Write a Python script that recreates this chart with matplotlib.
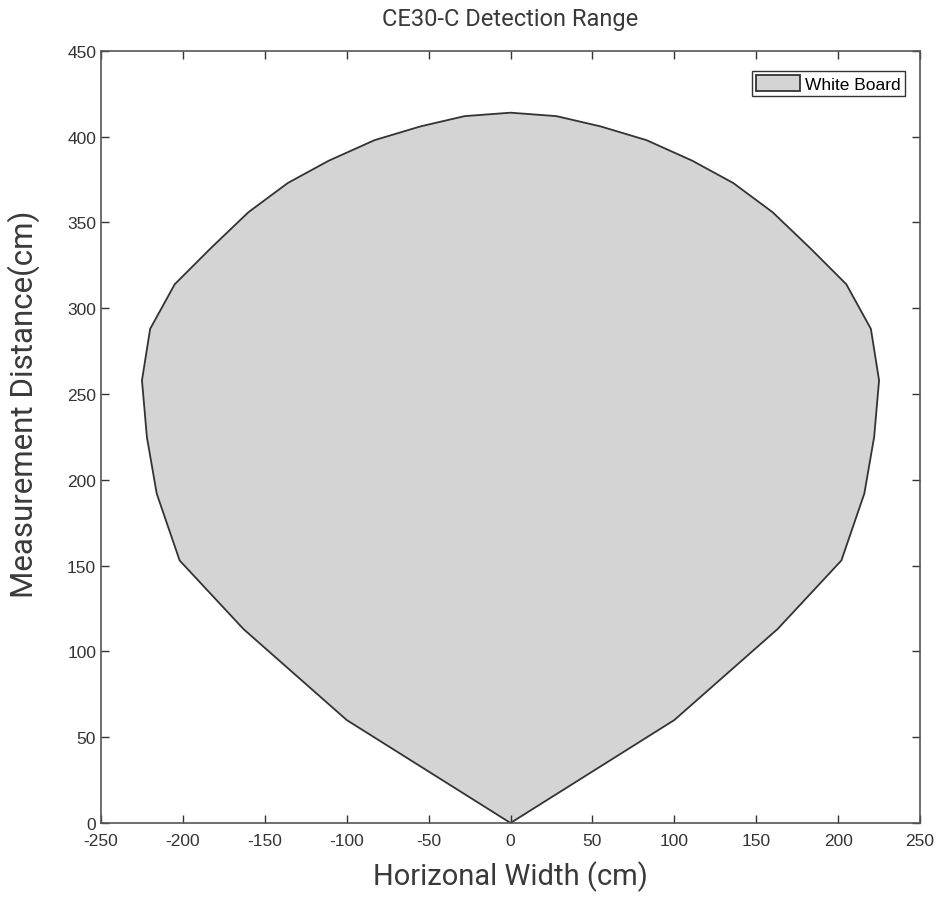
import numpy as np
import matplotlib.pyplot as plt

plt.rcParams['axes.unicode_minus'] = False

# outline of the detection area (cm), traced counter-clockwise from the origin
width = [0, 100, 163, 202, 216, 222, 225, 220, 205, 183, 160, 136, 111, 83, 55, 28,
         0, -28, -55, -83, -111, -136, -160, -183, -205, -220, -225, -222, -216, -202, -163, -100, 0]
distance = [0, 60, 113, 153, 192, 225, 258, 288, 314, 335, 356, 373, 386, 398, 406, 412,
            414, 412, 406, 398, 386, 373, 356, 335, 314, 288, 258, 225, 192, 153, 113, 60, 0]

fig = plt.figure(figsize=(9.44, 9.03), dpi=100)
ax = fig.add_axes([0.107, 0.0875, 0.8676, 0.855])

ax.fill(width, distance, facecolor='#d4d4d4', edgecolor='#333333', linewidth=1.3, label='White Board')

ax.set_xlim(-250, 250)
ax.set_ylim(0, 450)
ax.set_xticks(np.arange(-250, 251, 50))
ax.set_yticks(np.arange(0, 451, 50))
ax.tick_params(direction='in', top=True, right=True, length=6, width=1,
               labelsize=12.5, colors='#333333')
ax.tick_params(axis='x', pad=7)
for lab in ax.get_xticklabels() + ax.get_yticklabels():
    lab.set_family('Liberation Sans')
for s in ax.spines.values():
    s.set_color('#555555')
    s.set_linewidth(1.2)

lbl_font = {'family': 'Roboto', 'color': '#3a3a3a'}
ax.set_title('CE30-C Detection Range', fontsize=17, pad=19, **lbl_font)
ax.set_xlabel('Horizonal Width (cm)', fontsize=21, labelpad=9, **lbl_font)
ax.set_ylabel('Measurement Distance(cm)', fontsize=22.5, **lbl_font)
ax.yaxis.set_label_coords(-0.074, 0.543)

leg = ax.legend(loc='upper right', bbox_to_anchor=(0.9817, 0.974), borderaxespad=0,
                fancybox=False, edgecolor='#333333', framealpha=1,
                prop={'family': 'Liberation Sans', 'size': 12.5}, handlelength=2.5,
                handleheight=1.0, handletextpad=0.3, borderpad=0.25)
leg.get_frame().set_linewidth(1.0)

plt.savefig('out.png', dpi=100)
